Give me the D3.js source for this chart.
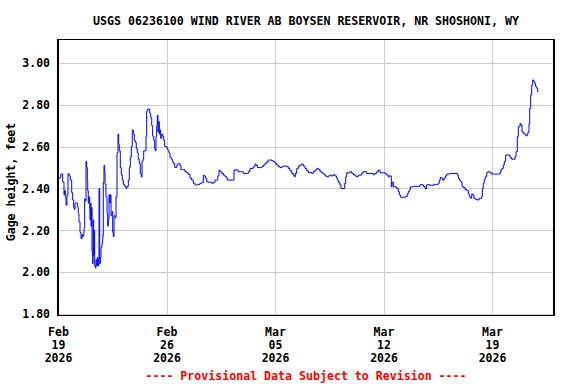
<!DOCTYPE html>
<html>
<head>
<meta charset="utf-8">
<script src="https://cdn.jsdelivr.net/npm/d3@7/dist/d3.min.js"></script>
<style>
  html, body { margin: 0; padding: 0; background: #fff; }
  svg { display: block; }
  text { font-family: "DejaVu Sans Mono", "Liberation Mono", monospace; font-weight: bold; }
</style>
</head>
<body>
<svg id="chart" width="576" height="384"></svg>
<script>
// ---- data ----
const chartTitle = "USGS 06236100 WIND RIVER AB BOYSEN RESERVOIR, NR SHOSHONI, WY";
const yAxisTitle = "Gage height, feet";
const footerText = "---- Provisional Data Subject to Revision ----";
const startTime = "2026-02-19T00:00:00";
const endTime = "2026-03-23T00:00:00";
const xTickDates = ["2026-02-19", "2026-02-26", "2026-03-05", "2026-03-12", "2026-03-19"];
const yTicks = [1.8, 2.0, 2.2, 2.4, 2.6, 2.8, 3.0];
const yDomain = [1.7904, 3.1147];

// hours since start of record (Feb 19 00:00)
const hoursSinceStart = [
  1.1, 4.2, 5.1, 7.3, 9.3, 10.4, 11.3, 12.4, 13.9, 15.5, 17.5, 19.0, 20.6, 21.2, 22.8, 24.3, 25.2, 26.3, 29.0, 30.5,
  31.4, 32.5, 34.1, 35.6, 37.2, 38.2, 39.2, 40.3, 41.3, 42.3, 43.4, 44.4, 45.4, 46.0, 46.9, 48.0, 49.1, 49.5, 50.6, 51.1,
  52.2, 52.6, 53.7, 54.2, 55.3, 55.7, 56.8, 57.8, 58.8, 59.9, 60.9, 61.9, 63.0, 63.5, 64.6, 65.5, 66.6, 68.1, 69.2, 70.1,
  71.2, 72.3, 72.8, 74.3, 75.9, 77.0, 77.9, 79.0, 80.1, 81.0, 82.1, 83.6, 84.7, 85.6, 86.7, 88.3, 89.8, 91.4, 92.9, 94.0,
  94.9, 96.5, 98.0, 99.6, 101.1, 103.3, 105.3, 106.8, 108.9, 110.4, 111.9, 113.5, 115.0, 116.6, 118.1, 119.7, 121.2, 122.8, 124.3, 125.9,
  127.4, 129.0, 130.1, 131.6, 132.7, 135.2, 136.3, 137.3, 138.9, 140.4, 142.0, 143.5, 145.1, 146.6, 148.2, 149.7, 150.7, 151.7, 152.8, 153.8,
  154.8, 155.9, 156.9, 157.9, 159.0, 160.6, 162.1, 163.7, 165.2, 167.2, 168.8, 170.3, 171.9, 173.4, 175.4, 177.0, 178.5, 180.7, 183.8, 185.3,
  187.4, 188.9, 190.5, 194.0, 196.6, 199.3, 201.8, 204.4, 207.0, 209.5, 212.1, 214.8, 217.2, 219.9, 222.5, 225.0, 226.5, 228.1, 230.3, 232.7,
  235.4, 238.0, 240.5, 243.1, 245.7, 247.3, 249.3, 250.8, 253.5, 256.0, 258.6, 261.2, 262.8, 266.3, 271.4, 272.5, 275.6, 277.6, 279.2, 284.4,
  286.9, 293.1, 294.7, 297.3, 302.4, 305.0, 306.6, 308.6, 313.9, 315.4, 317.9, 320.5, 323.2, 325.6, 328.3, 330.9, 333.4, 336.0, 338.6, 341.1,
  343.7, 346.4, 348.9, 351.5, 354.1, 356.6, 359.2, 361.9, 364.3, 365.9, 367.4, 369.6, 372.1, 374.7, 377.3, 379.8, 382.5, 385.1, 387.6, 392.8,
  395.3, 397.9, 400.6, 403.0, 405.7, 408.3, 410.8, 413.4, 416.1, 418.5, 421.2, 423.8, 426.3, 428.9, 431.5, 433.1, 434.6, 436.6, 438.2, 442.8,
  443.9, 445.5, 447.0, 452.1, 454.8, 457.2, 459.9, 462.5, 465.0, 470.2, 472.7, 478.0, 483.1, 488.2, 490.8, 493.5, 496.0, 498.6, 503.7, 506.3,
  509.0, 511.4, 513.0, 515.2, 516.1, 517.2, 519.2, 521.8, 524.5, 526.9, 528.5, 530.6, 534.7, 537.3, 538.8, 540.9, 542.4, 544.0, 545.5, 550.2,
  557.9, 560.5, 565.6, 568.3, 570.9, 576.0, 581.1, 586.4, 588.8, 590.4, 591.9, 594.1, 595.7, 597.7, 599.7, 601.9, 607.0, 616.3, 618.3, 619.8,
  621.4, 623.5, 625.6, 627.6, 630.2, 632.9, 634.4, 635.3, 636.9, 639.0, 640.6, 642.1, 644.1, 646.8, 649.2, 651.9, 654.5, 656.0, 657.0, 658.5,
  660.1, 661.6, 663.8, 665.3, 668.9, 671.5, 681.8, 683.3, 685.5, 687.5, 689.5, 691.1, 693.2, 698.3, 699.9, 702.5, 706.1, 707.6, 709.2, 711.2,
  712.7, 715.4, 716.9, 718.5, 720.5, 723.1, 724.7, 726.7, 728.2, 729.3, 730.4, 731.9, 733.5, 735.0, 736.6, 738.1, 739.6, 741.2, 742.8
];

// gage height, feet
const gageHeight = [
  2.45, 2.465, 2.47, 2.43, 2.37, 2.39, 2.36, 2.32, 2.37, 2.47, 2.46, 2.44, 2.44, 2.38, 2.345, 2.31, 2.30, 2.33, 2.33, 2.31,
  2.28, 2.24, 2.19, 2.16, 2.18, 2.17, 2.18, 2.21, 2.35, 2.34, 2.53, 2.50, 2.44, 2.39, 2.33, 2.36, 2.30, 2.25, 2.33, 2.22,
  2.31, 2.10, 2.04, 2.25, 2.08, 2.20, 2.03, 2.02, 2.06, 2.03, 2.07, 2.03, 2.07, 2.40, 2.04, 2.07, 2.12, 2.14, 2.17, 2.43,
  2.51, 2.48, 2.42, 2.36, 2.28, 2.22, 2.25, 2.37, 2.33, 2.37, 2.27, 2.29, 2.19, 2.17, 2.27, 2.26, 2.36, 2.57, 2.66, 2.61,
  2.58, 2.50, 2.465, 2.44, 2.42, 2.41, 2.40, 2.41, 2.44, 2.50, 2.55, 2.60, 2.68, 2.66, 2.63, 2.62, 2.59, 2.57, 2.54, 2.52,
  2.47, 2.455, 2.53, 2.54, 2.58, 2.58, 2.65, 2.77, 2.78, 2.78, 2.76, 2.74, 2.70, 2.65, 2.63, 2.59, 2.58, 2.65, 2.70, 2.75,
  2.67, 2.72, 2.66, 2.68, 2.64, 2.66, 2.65, 2.63, 2.60, 2.60, 2.59, 2.58, 2.57, 2.55, 2.54, 2.53, 2.52, 2.50, 2.51, 2.517,
  2.52, 2.51, 2.49, 2.49, 2.48, 2.475, 2.467, 2.45, 2.44, 2.425, 2.417, 2.417, 2.42, 2.425, 2.428, 2.464, 2.46, 2.449, 2.432, 2.43,
  2.43, 2.425, 2.43, 2.44, 2.44, 2.46, 2.488, 2.48, 2.472, 2.464, 2.456, 2.449, 2.44, 2.44, 2.44, 2.488, 2.49, 2.488, 2.48, 2.48,
  2.472, 2.472, 2.48, 2.496, 2.504, 2.517, 2.512, 2.50, 2.50, 2.504, 2.512, 2.52, 2.528, 2.536, 2.536, 2.533, 2.528, 2.52, 2.512, 2.504,
  2.50, 2.504, 2.507, 2.507, 2.504, 2.496, 2.485, 2.472, 2.464, 2.456, 2.472, 2.496, 2.507, 2.512, 2.517, 2.507, 2.496, 2.485, 2.476, 2.472,
  2.48, 2.488, 2.496, 2.49, 2.48, 2.475, 2.469, 2.46, 2.456, 2.46, 2.464, 2.46, 2.466, 2.46, 2.449, 2.437, 2.428, 2.417, 2.40, 2.40,
  2.425, 2.456, 2.475, 2.48, 2.472, 2.466, 2.46, 2.456, 2.464, 2.475, 2.48, 2.472, 2.472, 2.466, 2.472, 2.48, 2.488, 2.475, 2.475, 2.472,
  2.464, 2.456, 2.46, 2.46, 2.408, 2.43, 2.408, 2.408, 2.40, 2.385, 2.369, 2.358, 2.358, 2.358, 2.362, 2.374, 2.385, 2.393, 2.408, 2.41,
  2.41, 2.418, 2.41, 2.40, 2.418, 2.415, 2.418, 2.42, 2.425, 2.44, 2.453, 2.45, 2.44, 2.45, 2.46, 2.469, 2.472, 2.472, 2.465, 2.449,
  2.44, 2.432, 2.41, 2.404, 2.395, 2.39, 2.39, 2.374, 2.36, 2.353, 2.374, 2.369, 2.353, 2.348, 2.345, 2.353, 2.353, 2.361, 2.40, 2.425,
  2.444, 2.456, 2.475, 2.48, 2.475, 2.469, 2.469, 2.472, 2.488, 2.496, 2.512, 2.53, 2.56, 2.56, 2.547, 2.54, 2.54, 2.552, 2.576, 2.648,
  2.695, 2.71, 2.703, 2.67, 2.664, 2.656, 2.652, 2.664, 2.67, 2.71, 2.783, 2.847, 2.895, 2.919, 2.91, 2.903, 2.887, 2.879, 2.86
];

// ---- layout ----
const svg = d3.select("#chart");
const plot = { left: 58, right: 554, top: 39, bottom: 316 };

const t0 = new Date(startTime);
const series = hoursSinceStart.map((h, i) => ({
  t: new Date(t0.getTime() + h * 3600 * 1000),
  v: gageHeight[i]
}));

const x = d3.scaleTime()
  .domain([new Date(startTime), new Date(endTime)])
  .range([plot.left, plot.right]);
const y = d3.scaleLinear().domain(yDomain).range([plot.bottom, plot.top]);

// gridlines
const grid = svg.append("g").attr("stroke", "#cccccc").attr("stroke-width", 1);
grid.selectAll("line.h").data(yTicks).join("line")
  .attr("x1", plot.left).attr("x2", plot.right)
  .attr("y1", d => Math.round(y(d)) + 0.5).attr("y2", d => Math.round(y(d)) + 0.5);
const xTicks = xTickDates.map(s => new Date(s + "T00:00:00"));
grid.selectAll("line.v").data(xTicks).join("line")
  .attr("y1", plot.top).attr("y2", plot.bottom)
  .attr("x1", d => Math.round(x(d)) + 0.5).attr("x2", d => Math.round(x(d)) + 0.5);

// data line
const line = d3.line().x(d => x(d.t)).y(d => y(d.v)).curve(d3.curveStepAfter);
svg.append("path").datum(series)
  .attr("fill", "none").attr("stroke", "#0000ff").attr("stroke-width", 1)
  .attr("d", line);

// frame
svg.append("rect")
  .attr("x", plot.left + 0.5).attr("y", plot.top + 0.5)
  .attr("width", plot.right - plot.left - 1).attr("height", plot.bottom - plot.top - 1)
  .attr("fill", "none").attr("stroke", "#000").attr("stroke-width", 1);
svg.append("line").attr("x1", plot.left).attr("x2", plot.left)
  .attr("y1", plot.top).attr("y2", plot.bottom).attr("stroke", "#000").attr("stroke-width", 2);
svg.append("line").attr("x1", plot.right).attr("x2", plot.right)
  .attr("y1", plot.top).attr("y2", plot.bottom).attr("stroke", "#000").attr("stroke-width", 2);

// y axis labels
const yAxis = d3.axisLeft(y).tickValues(yTicks).tickSize(0).tickPadding(8).tickFormat(d3.format(".2f"));
const gy = svg.append("g").attr("transform", `translate(${plot.left},0)`).call(yAxis);
gy.select(".domain").remove();
gy.selectAll("text").attr("font-size", "11.5px").attr("fill", "#000")
  .style("font-family", '"DejaVu Sans Mono", monospace').style("font-weight", "bold");

// x axis labels (three lines)
const fmtMon = d3.timeFormat("%b"), fmtDay = d3.timeFormat("%d"), fmtYear = d3.timeFormat("%Y");
const xAxis = d3.axisBottom(x).tickValues(xTicks).tickSize(0).tickFormat("");
const gx = svg.append("g").attr("transform", `translate(0,${plot.bottom})`).call(xAxis);
gx.select(".domain").remove();
gx.selectAll(".tick").each(function(d) {
  const g = d3.select(this);
  g.select("text").remove();
  const txt = g.append("text").attr("text-anchor", "middle").attr("fill", "#000")
    .attr("font-size", "11.5px");
  [fmtMon(d), fmtDay(d), fmtYear(d)].forEach((s, i) => {
    txt.append("tspan").attr("x", 0).attr("y", 20 + i * 13).text(s);
  });
});

// title
svg.append("text").attr("x", (plot.left + plot.right) / 2).attr("y", 25)
  .attr("text-anchor", "middle").attr("font-size", "11.6px").attr("fill", "#000").text(chartTitle);

// y title
svg.append("text").attr("transform", `translate(15,182) rotate(-90)`)
  .attr("text-anchor", "middle").attr("font-size", "11.6px").attr("fill", "#000").text(yAxisTitle);

// footer
svg.append("text").attr("x", (plot.left + plot.right) / 2).attr("y", 380)
  .attr("text-anchor", "middle").attr("font-size", "11.6px").attr("fill", "#ff0000").text(footerText);
</script>
</body>
</html>
